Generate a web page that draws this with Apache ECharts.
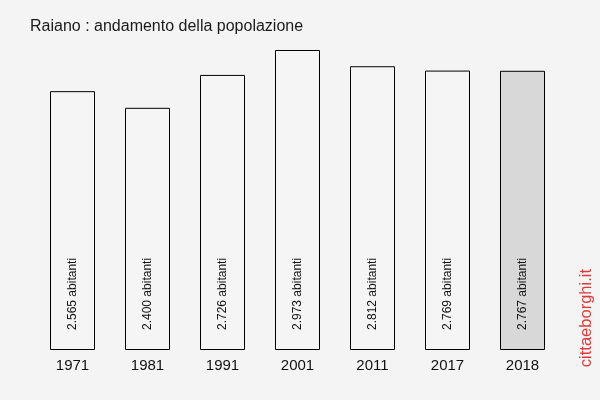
<!DOCTYPE html>
<html><head><meta charset="utf-8">
<script src="https://cdn.jsdelivr.net/npm/echarts@6/dist/echarts.min.js"></script>
<style>html,body{margin:0;padding:0;background:#f4f4f4}#c{width:600px;height:400px}</style>
</head><body><div id="c"></div>
<script>
const years = ['1971','1981','1991','2001','2011','2017','2018'];
const population = [2565, 2400, 2726, 2973, 2812, 2769, 2767];
const labels = ['2.565 abitanti','2.400 abitanti','2.726 abitanti','2.973 abitanti','2.812 abitanti','2.769 abitanti','2.767 abitanti'];
const title = 'Raiano : andamento della popolazione';
const watermark = 'cittaeborghi.it';

const chart = echarts.init(document.getElementById('c'), null, {renderer:'canvas'});
chart.setOption({
  backgroundColor: '#f4f4f4',
  animation: false,
  title: {text: title, left: 25, top: 14, textStyle: {fontFamily: 'Liberation Sans, Arial', fontSize: 16, fontWeight: 'normal', color: '#1a1a1a'}},
  graphic: [{type: 'text', left: 578, top: 269, rotation: Math.PI/2, style: {text: watermark, fill: '#e03a3a', font: '16.5px "Liberation Sans", Arial'}, originX: 0, originY: 0}],
  grid: {left: 35, right: 40, top: 50, bottom: 50},
  xAxis: {type: 'category', data: years, axisLine: {show: false}, axisTick: {show: false},
    axisLabel: {fontFamily: 'Liberation Sans, Arial', fontSize: 15, color: '#111', margin: 8}},
  yAxis: {type: 'value', min: 0, max: 2973, show: false, splitLine: {show: false}},
  series: [{type: 'bar', barWidth: 45,
    data: population.map((v, i) => ({value: v, itemStyle: {color: i === population.length - 1 ? '#d8d8d8' : '#f5f5f5'}})),
    itemStyle: {borderColor: '#000', borderWidth: 1},
    label: {show: true, position: 'insideBottom', distance: 20, rotate: 90, align: 'left', verticalAlign: 'middle',
      formatter: p => labels[p.dataIndex], fontFamily: 'Liberation Sans, Arial', fontSize: 12, color: '#111'}
  }]
});
</script></body></html>
